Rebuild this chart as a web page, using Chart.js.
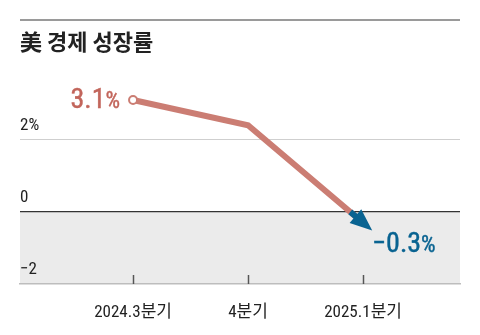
<!DOCTYPE html>
<html>
<head>
<meta charset="utf-8">
<script src="https://cdn.jsdelivr.net/npm/chart.js@4"></script>
<style>
  html, body { margin: 0; padding: 0; background: #fff; }
  #wrap { width: 480px; height: 335px; position: relative; }
</style>
</head>
<body>
<div id="wrap"><canvas id="growthChart"></canvas></div>
<script>
// 미국 경제 성장률 (분기, %)
const categories = ['2024.3분기', '4분기', '2025.1분기'];
const growth = [3.1, 2.4, -0.3];
const yTicks = [2, 0, -2];
const yTickLabels = ['2%', '0', '−2'];
const valueLabels = ['3.1', '−0.3'];

const LINE = 'rgb(203, 125, 115)';
const RED_TEXT = 'rgb(194, 101, 91)';
const BLUE = 'rgb(9, 99, 145)';
const NARROW = '"Roboto Condensed", "DejaVu Sans Condensed", "Noto Sans CJK KR", sans-serif';

// 글자를 살짝 두껍게 (외곽선 덧칠)
function heavyText(ctx, text, x, y) {
    ctx.fillText(text, x, y);
    ctx.strokeText(text, x, y);
}

// 배경, 제목, 화살표 등 직접 그리는 부분
const decorPlugin = {
    id: 'decor',
    beforeDraw(chart) {
        const { ctx, chartArea } = chart;
        const y = chart.scales.y;
        ctx.save();
        // 상단 구분선
        ctx.fillStyle = '#9a9a9a';
        ctx.fillRect(20, 19, 440, 2);
        // 제목
        ctx.fillStyle = '#222';
        ctx.font = 'bold 22px "Noto Sans CJK KR", sans-serif';
        ctx.textBaseline = 'alphabetic';
        ctx.fillText('美 경제 성장률', 20, 50);
        // 0 이하 회색 영역
        const y0 = y.getPixelForValue(0);
        ctx.fillStyle = '#ebebeb';
        ctx.fillRect(chartArea.left, y0, chartArea.right - chartArea.left, chartArea.bottom - y0);
        ctx.restore();
    },
    afterDraw(chart) {
        const { ctx, chartArea } = chart;
        const xs = chart.scales.x;
        const ys = chart.scales.y;
        ctx.save();

        // x축 눈금 표시 (위쪽으로)
        ctx.strokeStyle = '#555';
        ctx.lineWidth = 1.5;
        categories.forEach((c, i) => {
            const px = Math.round(xs.getPixelForValue(i)) + 0.5;
            ctx.beginPath();
            ctx.moveTo(px, chartArea.bottom - 9);
            ctx.lineTo(px, chartArea.bottom);
            ctx.stroke();
        });

        // 마지막 구간: 0 아래로 파란 화살표
        const n = growth.length;
        const ax = xs.getPixelForValue(n - 2), ay = ys.getPixelForValue(growth[n - 2]);
        const bx = xs.getPixelForValue(n - 1), by = ys.getPixelForValue(growth[n - 1]);
        const len = Math.hypot(bx - ax, by - ay);
        const ux = (bx - ax) / len, uy = (by - ay) / len;
        const t0 = growth[n - 2] / (growth[n - 2] - growth[n - 1]);
        const cx = ax + (bx - ax) * t0, cy = ay + (by - ay) * t0;
        const tipX = bx + ux * 12, tipY = by + uy * 12;
        const baseX = tipX - ux * 22, baseY = tipY - uy * 22;

        ctx.strokeStyle = BLUE;
        ctx.lineWidth = 6;
        ctx.beginPath();
        ctx.moveTo(cx, cy);
        ctx.lineTo(baseX + ux * 2, baseY + uy * 2);
        ctx.stroke();

        ctx.fillStyle = BLUE;
        ctx.beginPath();
        ctx.moveTo(tipX, tipY);
        ctx.lineTo(baseX - uy * 9, baseY + ux * 9);
        ctx.lineTo(baseX + uy * 9, baseY - ux * 9);
        ctx.closePath();
        ctx.fill();

        // 값 라벨
        const p0x = xs.getPixelForValue(0), p0y = ys.getPixelForValue(growth[0]);
        const big = '28px ' + NARROW, small = '23px ' + NARROW;
        ctx.textBaseline = 'alphabetic';
        ctx.lineWidth = 0.4;
        ctx.fillStyle = RED_TEXT;
        ctx.strokeStyle = RED_TEXT;
        ctx.font = big;
        const w1 = ctx.measureText(valueLabels[0]).width;
        ctx.font = small;
        const w2 = ctx.measureText('%').width;
        const right = p0x - 13;
        heavyText(ctx, '%', right - w2, p0y + 8);
        ctx.font = big;
        heavyText(ctx, valueLabels[0], right - w2 - w1, p0y + 8);

        ctx.fillStyle = BLUE;
        ctx.strokeStyle = BLUE;
        const left = bx + 9;
        ctx.font = big;
        const w3 = ctx.measureText(valueLabels[1]).width;
        heavyText(ctx, valueLabels[1], left, by + 29);
        ctx.font = small;
        heavyText(ctx, '%', left + w3, by + 29);

        ctx.restore();
    }
};

new Chart(document.getElementById('growthChart'), {
    type: 'line',
    data: {
        datasets: [{
            data: growth.map((v, i) => ({ x: i, y: v })),
            borderColor: LINE,
            borderWidth: 6,
            tension: 0,
            pointRadius: ctx => ctx.dataIndex === 0 ? 4 : 0,
            pointBorderWidth: 2,
            pointBorderColor: LINE,
            pointBackgroundColor: '#fff'
        }]
    },
    options: {
        responsive: true,
        maintainAspectRatio: false,
        animation: false,
        layout: { padding: { left: 20, right: 20, top: 82, bottom: 0 } },
        plugins: {
            legend: { display: false },
            tooltip: { enabled: false }
        },
        scales: {
            x: {
                type: 'linear',
                min: -0.983,
                max: 2.843,
                afterBuildTicks: scale => { scale.ticks = categories.map((c, i) => ({ value: i })); },
                afterFit: scale => { scale.height = 51; },
                grid: { display: false },
                border: { display: true, color: '#bdbdbd', width: 1.5 },
                ticks: {
                    padding: 11,
                    color: '#222',
                    maxRotation: 0,
                    autoSkip: false,
                    font: { family: NARROW, size: 17 },
                    callback: v => categories[v]
                }
            },
            y: {
                min: -2,
                max: 3.6,
                afterBuildTicks: scale => { scale.ticks = yTicks.map(v => ({ value: v })); },
                afterFit: scale => { scale.width = 0; },
                border: { display: false },
                grid: {
                    drawTicks: false,
                    color: ctx => {
                        const v = ctx.tick && ctx.tick.value;
                        if (v === 0) return '#333';
                        if (v === 2) return '#cfcfcf';
                        return 'rgba(0,0,0,0)';
                    },
                    lineWidth: ctx => (ctx.tick && ctx.tick.value === 0) ? 1.2 : 1
                },
                ticks: {
                    mirror: true,
                    padding: 0,
                    labelOffset: -14,
                    color: '#222',
                    font: { family: NARROW, size: 17 },
                    callback: v => yTickLabels[yTicks.indexOf(v)]
                }
            }
        }
    },
    plugins: [decorPlugin]
});
</script>
</body>
</html>
